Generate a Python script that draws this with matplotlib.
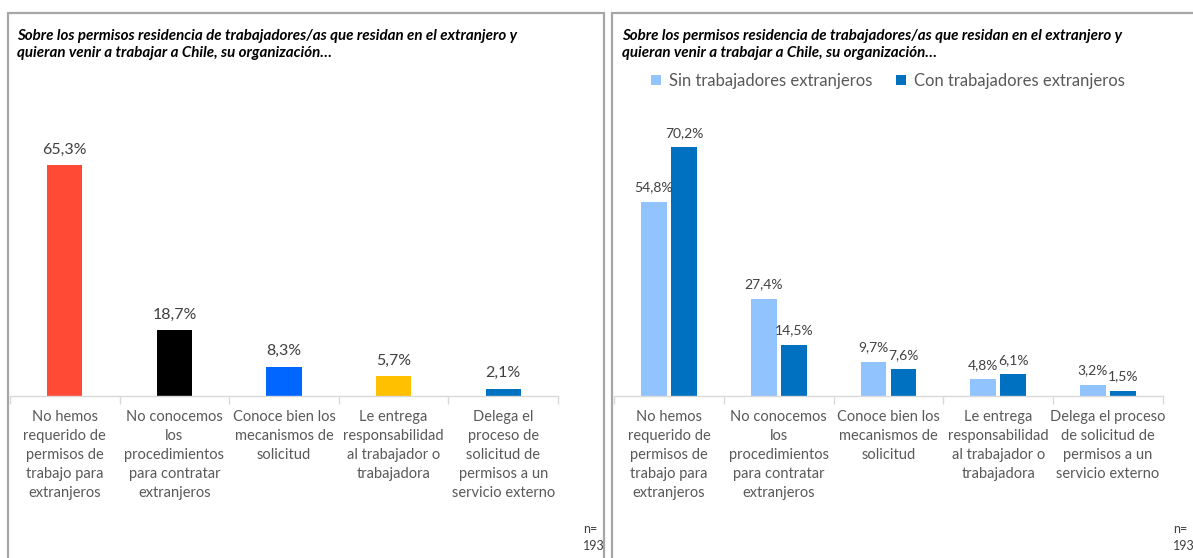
import matplotlib.pyplot as plt
import numpy as np
from matplotlib.patches import Rectangle

plt.rcParams['font.family'] = ['Lato', 'DejaVu Sans']

# data
labels_left = ['No hemos\nrequerido de\npermisos de\ntrabajo para\nextranjeros',
               'No conocemos\nlos\nprocedimientos\npara contratar\nextranjeros',
               'Conoce bien los\nmecanismos de\nsolicitud',
               'Le entrega\nresponsabilidad\nal trabajador o\ntrabajadora',
               'Delega el\nproceso de\nsolicitud de\npermisos a un\nservicio externo']
labels_right = ['No hemos\nrequerido de\npermisos de\ntrabajo para\nextranjeros',
                'No conocemos\nlos\nprocedimientos\npara contratar\nextranjeros',
                'Conoce bien los\nmecanismos de\nsolicitud',
                'Le entrega\nresponsabilidad\nal trabajador o\ntrabajadora',
                'Delega el proceso\nde solicitud de\npermisos a un\nservicio externo']
total = [65.3, 18.7, 8.3, 5.7, 2.1]
total_colors = ['#FF4B36', '#000000', '#0066FF', '#FFC000', '#0070C0']
sin_ext = [54.8, 27.4, 9.7, 4.8, 3.2]
con_ext = [70.2, 14.5, 7.6, 6.1, 1.5]
series_names = ['Sin trabajadores extranjeros', 'Con trabajadores extranjeros']
n_text = 'n=\n193'
title = ('Sobre los permisos residencia de trabajadores/as que residan en el extranjero y\n'
         'quieran venir a trabajar a Chile, su organización…')

W, H = 1193, 558
fig = plt.figure(figsize=(W / 100, H / 100), dpi=100)

def px_axes(x0, y0, x1, y1):
    # pixel coords, y from top
    return fig.add_axes([x0 / W, 1 - y1 / H, (x1 - x0) / W, (y1 - y0) / H])

# panel borders
for (x0, x1) in [(8, 604), (612, 1200)]:
    fig.patches.append(Rectangle((x0 / W, -0.02), (x1 - x0) / W, 1 - 13 / H + 0.02,
                                 transform=fig.transFigure, fill=False,
                                 edgecolor='#A6A6A6', linewidth=1.6))

gray = '#595959'

def style_axes(ax, labels):
    x = np.arange(len(labels))
    ax.set_xlim(-0.5, len(labels) - 0.5)
    ax.set_ylim(0, 83.6)
    ax.set_yticks([])
    for s in ['top', 'right', 'left']:
        ax.spines[s].set_visible(False)
    ax.spines['bottom'].set_color('#D9D9D9')
    ax.spines['bottom'].set_linewidth(1)
    ax.set_xticks(x)
    ax.set_xticklabels(labels, fontsize=10.5, color=gray, linespacing=1.45, va='top')
    ax.tick_params(axis='x', which='major', length=0, pad=10)
    ax.set_xticks(np.arange(len(labels) + 1) - 0.5, minor=True)
    ax.tick_params(axis='x', which='minor', length=6, color='#D9D9D9', width=1)
    ax.patch.set_alpha(0)

# left chart
ax1 = px_axes(10, 100, 558, 396)
x = np.arange(len(total))
bars = ax1.bar(x, total, width=0.32, color=total_colors, zorder=2)
for xi, v in zip(x, total):
    ax1.annotate(f'{v:.1f}%'.replace('.', ','), (xi, v), xytext=(0, 6),
                 textcoords='offset points', ha='center', va='bottom',
                 fontsize=11.5, color='#404040')
style_axes(ax1, labels_left)

# right chart
ax2 = px_axes(614, 100, 1163, 396)
w = 0.236
off = 0.137
ax2.bar(x - off, sin_ext, width=w, color='#91C3FF', label=series_names[0], zorder=2)
ax2.bar(x + off, con_ext, width=w, color='#0070C0', label=series_names[1], zorder=2)
for xi, v in zip(x, sin_ext):
    ax2.annotate(f'{v:.1f}%'.replace('.', ','), (xi - off, v), xytext=(0, 6),
                 textcoords='offset points', ha='center', va='bottom',
                 fontsize=10, color='#404040')
for xi, v in zip(x, con_ext):
    ax2.annotate(f'{v:.1f}%'.replace('.', ','), (xi + off, v), xytext=(0, 6),
                 textcoords='offset points', ha='center', va='bottom',
                 fontsize=10, color='#404040')
style_axes(ax2, labels_right)

leg = fig.legend(loc='center', bbox_to_anchor=(888 / W, 1 - 81 / H), ncol=2,
                 frameon=False, fontsize=12, handlelength=0.6, handleheight=0.6,
                 handletextpad=0.5, columnspacing=1.4)
for t in leg.get_texts():
    t.set_color(gray)

# titles
for x0 in [17, 622]:
    fig.text(x0 / W, 1 - 29 / H, title, ha='left', va='top', fontsize=10.9,
             fontweight='bold', fontstyle='italic', linespacing=1.3, color='black')

# n labels
for x0 in [583, 1173]:
    fig.text(x0 / W, 1 - 523 / H, n_text, ha='left', va='top', fontsize=9,
             color='#404040', linespacing=1.5)

fig.savefig('out.png', dpi=100)
